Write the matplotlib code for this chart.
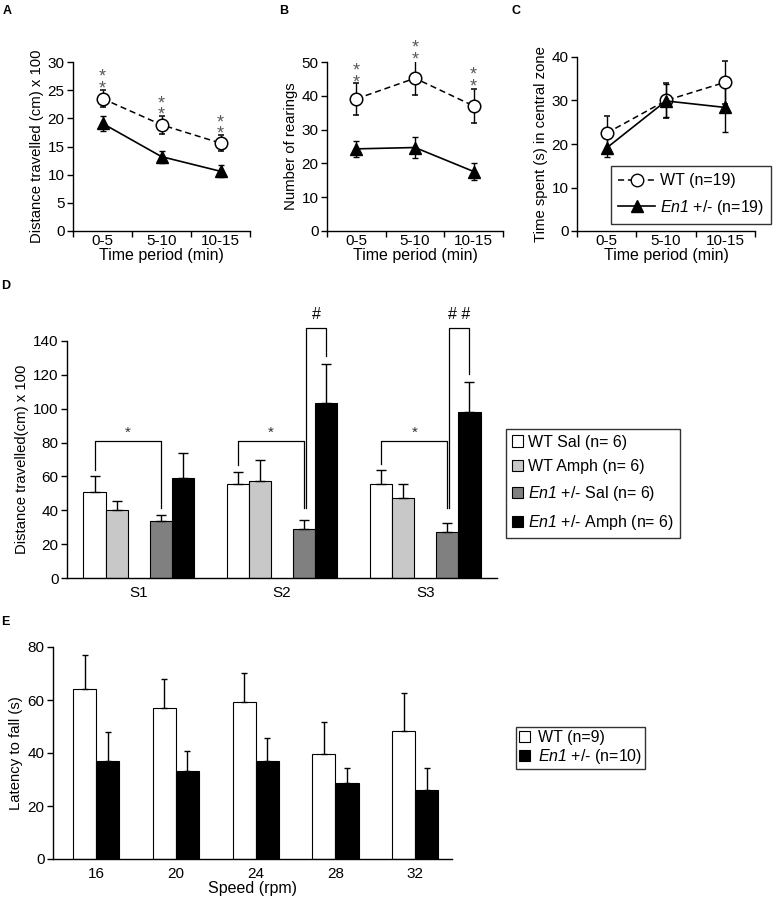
import matplotlib
matplotlib.use("Agg")
import matplotlib.pyplot as plt
import numpy as np
from matplotlib.patches import Patch
from matplotlib.lines import Line2D

plt.rcParams["font.family"] = ["Liberation Sans", "DejaVu Sans"]
plt.rcParams["mathtext.fontset"] = "custom"
plt.rcParams["mathtext.rm"] = "Liberation Sans:italic"
plt.rcParams["mathtext.it"] = "Liberation Sans:italic"

# --- data ---
periods = ["0-5", "5-10", "10-15"]

dist_wt = [23.5, 18.85, 15.6]
dist_wt_err = [1.5, 1.6, 1.4]
dist_en1 = [19.1, 13.2, 10.6]
dist_en1_err = [1.4, 1.05, 1.05]

rear_wt = [39.1, 45.2, 37.0]
rear_wt_err = [4.7, 5.0, 5.0]
rear_en1 = [24.3, 24.7, 17.6]
rear_en1_err = [2.3, 3.2, 2.5]

cent_wt = [22.5, 30.0, 34.2]
cent_wt_err = [4.0, 4.0, 4.9]
cent_en1 = [19.1, 29.9, 28.4]
cent_en1_err = [2.2, 3.8, 5.6]

sessions = ["S1", "S2", "S3"]
d_groups = ["WT Sal (n= 6)", "WT Amph (n= 6)",
            r"$En1$ +/- Sal (n= 6)", r"$En1$ +/- Amph (n= 6)"]
d_vals = [[50.7, 55.5, 55.5],   # WT Sal
          [40.2, 57.5, 47.0],   # WT Amph
          [33.9, 28.9, 27.4],   # En1 Sal
          [59.0, 103.3, 98.0]]  # En1 Amph
d_err = [[9.3, 7.3, 8.1],
         [5.3, 12.0, 8.3],
         [3.5, 5.4, 5.1],
         [14.8, 23.1, 17.7]]

speeds = ["16", "20", "24", "28", "32"]
rot_wt = [64.1, 56.8, 59.2, 39.5, 48.2]
rot_wt_err = [12.8, 11.0, 11.1, 12.2, 14.6]
rot_en1 = [37.0, 33.2, 37.0, 28.5, 26.0]
rot_en1_err = [11.0, 7.4, 8.6, 6.0, 8.5]

W, H = 778, 899
TICK = 11
XLAB = 11.5
YLAB = 10.7
LEG = 11.5

fig = plt.figure(figsize=(W / 100, H / 100), dpi=100)


def rect(l, t, r, b):
    return [l / W, 1 - b / H, (r - l) / W, (b - t) / H]


def style(ax):
    for s in ["top", "right"]:
        ax.spines[s].set_visible(False)
    for s in ["left", "bottom"]:
        ax.spines[s].set_linewidth(1.0)
    ax.tick_params(axis="y", direction="out", length=4, width=1, labelsize=TICK, pad=2)


def line_panel(ax, wt, wt_e, en, en_e, ymax, step, ylabel):
    x = np.arange(len(periods)) + 0.5
    ax.errorbar(x, wt, yerr=wt_e, fmt="o", ls=(0, (4, 2.5)), color="black", lw=1.1,
                mfc="white", mec="black", ms=9, mew=1.1, capsize=2.5, elinewidth=1,
                zorder=3)
    ax.errorbar(x, en, yerr=en_e, fmt="^", ls="-", color="black", lw=1.2,
                mfc="black", ms=8.5, capsize=2.5, elinewidth=1, zorder=3)
    ax.set_xlim(0, 3)
    ax.set_ylim(0, ymax)
    ax.set_yticks(np.arange(0, ymax + 1, step))
    ax.set_xticks([0, 1, 2, 3])
    ax.set_xticklabels([])
    ax.set_xticks(x, minor=True)
    ax.set_xticklabels(periods, minor=True)
    ax.tick_params(axis="x", which="major", direction="out", length=4, width=1)
    ax.tick_params(axis="x", which="minor", length=0, labelsize=TICK, pad=2)
    ax.set_xlabel("Time period (min)", fontsize=XLAB, labelpad=0)
    ax.set_ylabel(ylabel, fontsize=YLAB, labelpad=3)
    style(ax)
    return x


def stars(ax, x, ys, gap):
    # two stacked grey asterisks, one text per category
    for xi, y in zip(x, ys):
        ax.text(xi, y - gap / 2, "*\n*", ha="center", va="center", fontsize=13,
                color="0.35", linespacing=0.58, clip_on=False)


# --- A ---
axA = fig.add_axes(rect(73, 62, 250, 231))
xA = line_panel(axA, dist_wt, dist_wt_err, dist_en1, dist_en1_err, 30, 5,
                "Distance travelled (cm) x 100")
stars(axA, xA, [27.4, 22.7, 19.3], 2.2)

# --- B ---
axB = fig.add_axes(rect(327, 62, 503, 231))
xB = line_panel(axB, rear_wt, rear_wt_err, rear_en1, rear_en1_err, 50, 10,
                "Number of rearings")
stars(axB, xB, [47.3, 54.0, 46.1], 3.4)

# --- C ---
axC = fig.add_axes(rect(577, 57, 755, 231))
line_panel(axC, cent_wt, cent_wt_err, cent_en1, cent_en1_err, 40, 10,
           "Time spent (s) in central zone")
handlesC = [
    Line2D([], [], color="black", ls=(0, (4, 2.5)), lw=1.1, marker="o", mfc="white",
           mec="black", ms=9),
    Line2D([], [], color="black", ls="-", lw=1.2, marker="^", mfc="black", ms=8.5),
]
legC = fig.legend(handlesC, ["WT (n=19)", r"$En1$ +/- (n=19)"],
                  loc="upper left", bbox_to_anchor=(611 / W, 1 - 166 / H),
                  fontsize=LEG, frameon=True, fancybox=False, edgecolor="black",
                  handlelength=2.3, labelspacing=0.6, borderpad=0.45,
                  handletextpad=0.3, borderaxespad=0)
legC.get_frame().set_linewidth(1.0)

# --- D ---
axD = fig.add_axes(rect(67, 341, 497, 578))
bw = 0.154
slots = [-2, -1, 1, 2]
colors = ["white", "#c8c8c8", "#808080", "black"]
xs = np.arange(len(sessions)) + 0.5
for k in range(4):
    pos = xs + slots[k] * bw
    axD.bar(pos, d_vals[k], bw, color=colors[k], edgecolor="black", lw=0.8, zorder=2)
    axD.errorbar(pos, d_vals[k], yerr=[np.zeros(3), d_err[k]], fmt="none",
                 ecolor="black", elinewidth=1, capsize=3.5, capthick=1, zorder=3)

# significance brackets (WT Sal vs En1 Sal)
for i in range(3):
    xl = xs[i] + slots[0] * bw
    xr = xs[i] + slots[2] * bw
    yl = d_vals[0][i] + d_err[0][i] + 4
    axD.plot([xl, xl, xr, xr], [yl, 80.7, 80.7, 41.3], color="black", lw=0.9,
             zorder=4)
    axD.text((xl + xr) / 2, 81.5, "*", ha="center", va="bottom", fontsize=11,
             color="0.2")

# En1 Sal vs En1 Amph brackets
for i, lab in [(1, "#"), (2, "# #")]:
    xl = xs[i] + slots[2] * bw + 0.013
    xr = xs[i] + slots[3] * bw
    yr = d_vals[3][i] + d_err[3][i] + 5
    axD.plot([xl, xl, xr, xr], [41.3, 147.8, 147.8, yr], color="black", lw=0.9,
             clip_on=False, zorder=4)
    axD.text((xl + xr) / 2, 151, lab, ha="center", va="bottom", fontsize=11.5)

axD.set_xlim(0, 3)
axD.set_ylim(0, 140)
axD.set_yticks(np.arange(0, 141, 20))
axD.set_xticks(xs)
axD.set_xticklabels(sessions)
axD.tick_params(axis="x", length=0, labelsize=TICK, pad=6)
axD.set_ylabel("Distance travelled(cm) x 100", fontsize=YLAB, labelpad=3)
style(axD)

handlesD = [Patch(facecolor=c, edgecolor="black", lw=0.8) for c in colors]
legD = fig.legend(handlesD, d_groups, loc="upper left",
                  bbox_to_anchor=(506 / W, 1 - 429 / H), fontsize=LEG,
                  frameon=True, fancybox=False, edgecolor="black",
                  handlelength=0.7, handleheight=0.7, labelspacing=0.62,
                  borderpad=0.35, handletextpad=0.35, borderaxespad=0)
legD.get_frame().set_linewidth(1.0)

# --- E ---
axE = fig.add_axes(rect(53, 647, 452, 859))
xe = np.arange(len(speeds))
be = 0.29
axE.bar(xe - be / 2, rot_wt, be, color="white", edgecolor="black", lw=0.8, zorder=2)
axE.bar(xe + be / 2, rot_en1, be, color="black", edgecolor="black", lw=0.8, zorder=2)
axE.errorbar(xe - be / 2, rot_wt, yerr=[np.zeros(5), rot_wt_err], fmt="none",
             ecolor="black", elinewidth=1, capsize=2.5, capthick=1, zorder=3)
axE.errorbar(xe + be / 2, rot_en1, yerr=[np.zeros(5), rot_en1_err], fmt="none",
             ecolor="black", elinewidth=1, capsize=2.5, capthick=1, zorder=3)
axE.set_xlim(-0.54, 4.46)
axE.set_ylim(0, 80)
axE.set_yticks(np.arange(0, 81, 20))
axE.set_xticks(xe)
axE.set_xticklabels(speeds)
axE.tick_params(axis="x", length=0, labelsize=TICK, pad=6)
axE.set_xlabel("Speed (rpm)", fontsize=XLAB, labelpad=0)
axE.set_ylabel("Latency to fall (s)", fontsize=YLAB, labelpad=3)
style(axE)

handlesE = [Patch(facecolor="white", edgecolor="black", lw=0.8),
            Patch(facecolor="black", edgecolor="black", lw=0.8)]
legE = fig.legend(handlesE, ["WT (n=9)", r"$En1$ +/- (n=10)"], loc="upper left",
                  bbox_to_anchor=(516 / W, 1 - 727 / H), fontsize=LEG,
                  frameon=True, fancybox=False, edgecolor="black",
                  handlelength=0.7, handleheight=0.7, labelspacing=0.1,
                  borderpad=0.2, handletextpad=0.45, borderaxespad=0)
legE.get_frame().set_linewidth(1.0)

# panel letters
for lab, (px, py) in {"A": (3, 5), "B": (279, 5), "C": (512, 5),
                      "D": (1, 280), "E": (1, 616)}.items():
    fig.text(px / W, 1 - py / H, lab, ha="left", va="top", fontsize=9,
             fontweight="bold")

fig.savefig("out.png", dpi=100, facecolor="white")
